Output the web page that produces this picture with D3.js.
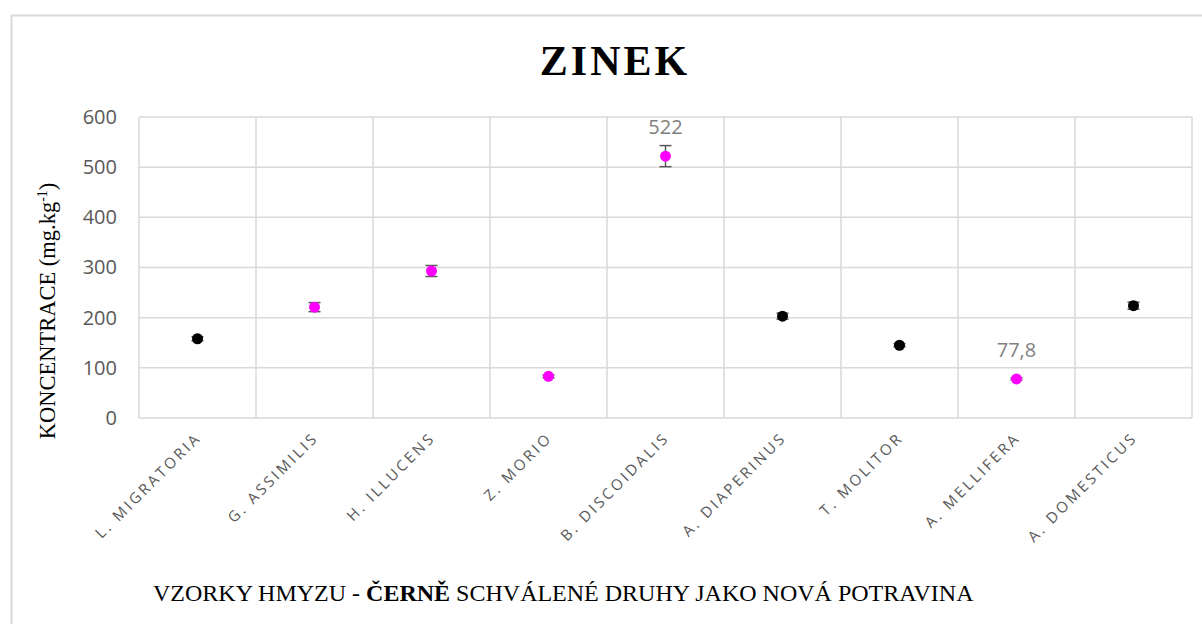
<!DOCTYPE html>
<html lang="cs">
<head>
<meta charset="UTF-8">
<title>Zinek</title>
<script src="https://d3js.org/d3.v7.min.js"></script>
<style>
  body { margin: 0; background: #fff; }
  svg { display: block; }
</style>
</head>
<body>
<svg width="1202" height="624"></svg>
<script>
// data
const species = ['L. MIGRATORIA', 'G. ASSIMILIS', 'H. ILLUCENS', 'Z. MORIO', 'B. DISCOIDALIS',
                 'A. DIAPERINUS', 'T. MOLITOR', 'A. MELLIFERA', 'A. DOMESTICUS'];
const zinc = [158, 221, 293, 83, 522, 203, 145, 77.8, 224];
const zincErr = [4, 9, 11, 3, 21, 6, 3, 2, 7];
// true = approved as novel food (drawn black)
const approved = [true, false, false, false, false, true, true, false, true];
const labelled = ['522', '77,8'];
const yTicks = [0, 100, 200, 300, 400, 500, 600];

const svg = d3.select('svg');
const plot = { left: 139, right: 1192, top: 117, bottom: 418 };
const fmt = v => String(v).replace('.', ',');

// outer chart frame (only top and left visible)
svg.append('rect')
  .attr('x', 11.5).attr('y', 15.5)
  .attr('width', 1300).attr('height', 700)
  .attr('fill', 'none').attr('stroke', '#d9d9d9').attr('stroke-width', 2);

const x = d3.scaleBand().domain(species).range([plot.left, plot.right]);
const y = d3.scaleLinear().domain([0, 600]).range([plot.bottom, plot.top]);

// horizontal grid
svg.append('g').selectAll('line').data(yTicks).join('line')
  .attr('x1', plot.left).attr('x2', plot.right)
  .attr('y1', d => y(d)).attr('y2', d => y(d))
  .attr('stroke', '#d9d9d9').attr('stroke-width', 1.5);

// vertical grid (band edges)
const edges = species.map(s => x(s)).concat([plot.right]);
svg.append('g').selectAll('line').data(edges).join('line')
  .attr('x1', d => d).attr('x2', d => d)
  .attr('y1', plot.top).attr('y2', plot.bottom)
  .attr('stroke', '#d9d9d9').attr('stroke-width', 1.5);

// y axis labels
const yAxis = svg.append('g')
  .attr('transform', `translate(${plot.left - 22},0)`)
  .call(d3.axisLeft(y).tickValues(yTicks).tickSize(0).tickPadding(0));
yAxis.select('.domain').remove();
yAxis.selectAll('text')
  .attr('fill', '#595959')
  .style('font-family', '"Open Sans", sans-serif')
  .style('font-size', '20px');

// x axis labels, rotated
const xAxis = svg.append('g')
  .attr('transform', `translate(0,${plot.bottom})`)
  .call(d3.axisBottom(x).tickSize(0).tickPadding(0));
xAxis.select('.domain').remove();
xAxis.selectAll('text')
  .attr('fill', '#595959')
  .style('font-family', '"Open Sans", sans-serif')
  .style('font-size', '15px')
  .style('letter-spacing', '2.8px')
  .attr('text-anchor', 'end')
  .attr('dy', '0.35em')
  .attr('transform', 'translate(1,17) rotate(-45)');

const points = species.map((s, i) => ({ s, v: zinc[i], e: zincErr[i], ok: approved[i] }));
const cx = d => x(d.s) + x.bandwidth() / 2;

// error bars
const eb = svg.append('g').attr('stroke', '#595959').attr('stroke-width', 1.5);
eb.selectAll('line.v').data(points).join('line').attr('class', 'v')
  .attr('x1', cx).attr('x2', cx)
  .attr('y1', d => y(d.v - d.e)).attr('y2', d => y(d.v + d.e));
eb.selectAll('line.top').data(points).join('line').attr('class', 'top')
  .attr('x1', d => cx(d) - 6).attr('x2', d => cx(d) + 6)
  .attr('y1', d => y(d.v + d.e)).attr('y2', d => y(d.v + d.e));
eb.selectAll('line.bot').data(points).join('line').attr('class', 'bot')
  .attr('x1', d => cx(d) - 6).attr('x2', d => cx(d) + 6)
  .attr('y1', d => y(d.v - d.e)).attr('y2', d => y(d.v - d.e));

// markers
svg.append('g').selectAll('circle').data(points).join('circle')
  .attr('cx', cx).attr('cy', d => y(d.v)).attr('r', 5.5)
  .attr('fill', d => d.ok ? '#000000' : '#ff00ff');

// data labels
const lab = points.filter(d => labelled.includes(fmt(d.v)));
svg.append('g').selectAll('text').data(lab).join('text')
  .attr('x', cx)
  .attr('y', d => y(d.v) - 22)
  .attr('text-anchor', 'middle')
  .attr('fill', '#7f7f7f')
  .style('font-family', '"Open Sans", sans-serif')
  .style('font-size', '20px')
  .text(d => fmt(d.v));

// title
svg.append('text')
  .attr('x', 615).attr('y', 75)
  .attr('text-anchor', 'middle')
  .style('font-family', '"Liberation Serif", serif')
  .style('font-weight', 'bold')
  .style('font-size', '42px')
  .style('letter-spacing', '3px')
  .text('ZINEK');

// y axis title
const yt = svg.append('text')
  .attr('transform', 'translate(55,311) rotate(-90)')
  .attr('text-anchor', 'middle')
  .style('font-family', '"Liberation Serif", serif')
  .style('font-size', '22.5px');
yt.append('tspan').text('KONCENTRACE (mg.kg');
yt.append('tspan').attr('dy', -8).style('font-size', '14px').text('-1');
yt.append('tspan').attr('dy', 8).text(')');

// x axis title
const xt = svg.append('text')
  .attr('x', 153).attr('y', 601)
  .style('font-family', '"Liberation Serif", serif')
  .style('font-size', '24px');
xt.append('tspan').text('VZORKY HMYZU - ');
xt.append('tspan').style('font-weight', 'bold').text('ČERNĚ');
xt.append('tspan').text(' SCHVÁLENÉ DRUHY JAKO NOVÁ POTRAVINA');
</script>
</body>
</html>
